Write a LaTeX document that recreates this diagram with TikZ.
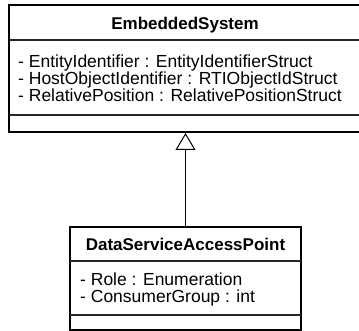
\documentclass[tikz,border=0pt]{standalone}
\usepackage{fontspec}
\setmainfont{Liberation Sans}
\usetikzlibrary{arrows.meta,calc}
\begin{document}
\begin{tikzpicture}[x=1pt,y=-1pt,
  classbox/.style={draw=black,line width=2pt,fill=white,inner sep=0pt},
  sep/.style={draw=black!85,line width=1.3pt},
  title/.style={font=\fontsize{17}{17}\selectfont\bfseries,anchor=base,inner sep=0pt},
  attr/.style={font=\fontsize{17.5}{17}\selectfont,anchor=base west,inner sep=0pt},
  inherit/.style={draw=black,line width=1pt,
    -{Triangle[open,width=20pt,length=17pt,fill=white]}}]
\useasboundingbox[fill=white] (0,0) rectangle (359,331);

% EmbeddedSystem class
\node[classbox,minimum width=352pt,minimum height=127pt] (es) at (185,68.5) {};
\draw[sep] (9,40) -- (361,40);
\draw[sep] (9,115) -- (361,115);
\node[title] (esname) at (185,30) {EmbeddedSystem};
\node[attr] (esa1) at (18,68) {- EntityIdentifier : EntityIdentifierStruct};
\node[attr] (esa2) at (18,85) {- HostObjectIdentifier : RTIObjectIdStruct};
\node[attr] (esa3) at (18,102) {- RelativePosition : RelativePositionStruct};

% DataServiceAccessPoint class
\node[classbox,minimum width=231pt,minimum height=103pt] (dsap) at (185.5,278.5) {};
\draw[sep] (70,261) -- (301,261);
\draw[sep] (70,315) -- (301,315);
\node[title] (dsapname) at (185.5,251) {DataServiceAccessPoint};
\node[attr] (dsapa1) at (80,286) {- Role : Enumeration};
\node[attr] (dsapa2) at (80,303) {- ConsumerGroup : int};

% generalization
\draw[inherit] (dsap.north) -- (dsap.north |- es.south);
\end{tikzpicture}
\end{document}
